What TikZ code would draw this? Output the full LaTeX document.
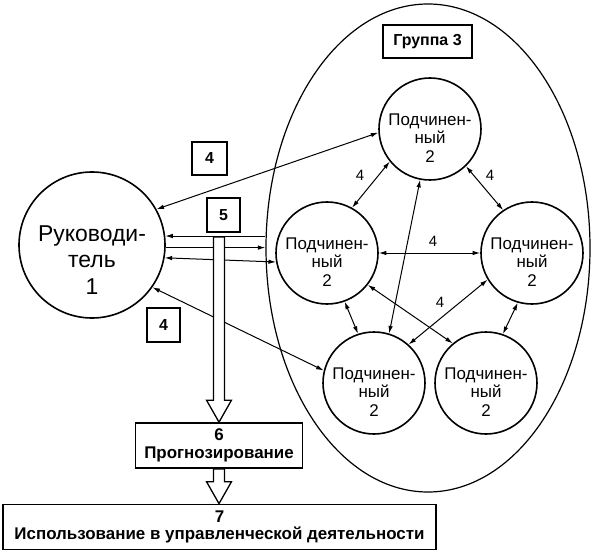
\documentclass[tikz,border=0pt]{standalone}
\usepackage{fontspec}
\setmainfont{Liberation Sans}
\usetikzlibrary{arrows.meta,calc,shapes.geometric}

\newcommand{\hollowarrow}[2]{%
  \filldraw[fill=white,line width=1.3bp]
    ($(#1)+(-5.5,0)$) -- ($(#2)+(-5.5,-22)$) -- ($(#2)+(-12.5,-22)$) -- (#2)
    -- ($(#2)+(12.5,-22)$) -- ($(#2)+(5.5,-22)$) -- ($(#1)+(5.5,0)$) -- cycle;}

\begin{document}
\begin{tikzpicture}[x=1bp, y=-1bp,
    >={Latex[length=7.5bp,width=4.5bp]},
    con/.style={line width=1bp},
    sub/.style={draw, circle, line width=1.6bp, minimum size=102bp, inner sep=0pt,
      label={[yshift=-9bp, align=center, font=\fontsize{17}{18.5}\selectfont]center:Подчинен-\\ный\\2}},
    numbox/.style={draw, line width=1.7bp, inner sep=0pt, font=\bfseries\fontsize{16}{17}\selectfont},
    textbox/.style={draw, line width=1.7bp, inner sep=0pt, align=center,
      font=\bfseries\fontsize{17}{17.5}\selectfont},
    lbl/.style={font=\fontsize{15}{16}\selectfont}]
        \useasboundingbox (0, 0) rectangle (593, 552);

        \node[draw, ellipse, line width=1.2bp, minimum width=324bp, minimum height=488bp, inner sep=0pt] (grp) at (428, 248) {};
        \node[numbox, minimum width=89bp, minimum height=33bp] (grplabel) at (427.5, 41.5) {Группа 3};

        \node[draw, circle, line width=1.6bp, minimum size=146bp, inner sep=0pt,
          label={[yshift=-15bp, align=center, font=\fontsize{23}{26.5}\selectfont]center:Руководи-\\тель\\1}] (leader) at (92, 245) {};

        \node[sub] (top) at (430, 129) {};
        \node[sub] (midleft) at (327, 253) {};
        \node[sub] (midright) at (532, 253) {};
        \node[sub] (botleft) at (374, 383) {};
        \node[sub] (botright) at (486, 383) {};

        \node[numbox, minimum width=35bp, minimum height=33bp] (fourup) at (209.5, 158.5) {4};
        \node[numbox, minimum width=33bp, minimum height=34bp] (five) at (223.5, 215) {5};
        \node[numbox, minimum width=33bp, minimum height=34bp] (fourdown) at (163.5, 325) {4};

        \node[textbox, minimum width=167bp, minimum height=45bp] (prog) at (219, 445.5) {6\\Прогнозирование};
        \node[textbox, minimum width=433bp, minimum height=45bp] (use) at (219.5, 527) {7\\Использование в управленческой деятельности};

        \draw[con, <->] (leader.29) -- (top.184);
        \draw[con, <->] (leader.325) -- (botleft.166);
        \draw[con, ->] (leader.-2) -- (leader.-2 -| grp.west);
        \draw[con, <->] (leader.-10) -- (midleft.190);

        \coordinate (sfttop) at (219, 237);
        \hollowarrow{sfttop}{prog.north}
        \coordinate (usetop) at (prog.south |- use.north);
        \hollowarrow{prog.south}{usetop}
        \draw[con, <-] (leader.7) -- (leader.7 -| grp.west);

        \draw[con, <->] (top.219) -- (midleft.61);
        \draw[con, <->] (top.314) -- (midright.124);
        \draw[con, <->] (midleft.east) -- (midright.west);
        \draw[con, <->] (top.259) -- (botleft.73);
        \draw[con, <->] (midleft.322) -- (botright.130);
        \draw[con, <->] (midright.211) -- (botleft.48);
        \draw[con, <->] (midleft.290) -- (botleft.108);
        \draw[con, <->] (midright.254) -- (botright.71);

        \node[lbl] (ftl) at (360, 175) {4};
        \node[lbl] (ftr) at (490, 175) {4};
        \node[lbl] (fmid) at (433, 241) {4};
        \node[lbl] (flow) at (440, 302) {4};
      \end{tikzpicture}
\end{document}
